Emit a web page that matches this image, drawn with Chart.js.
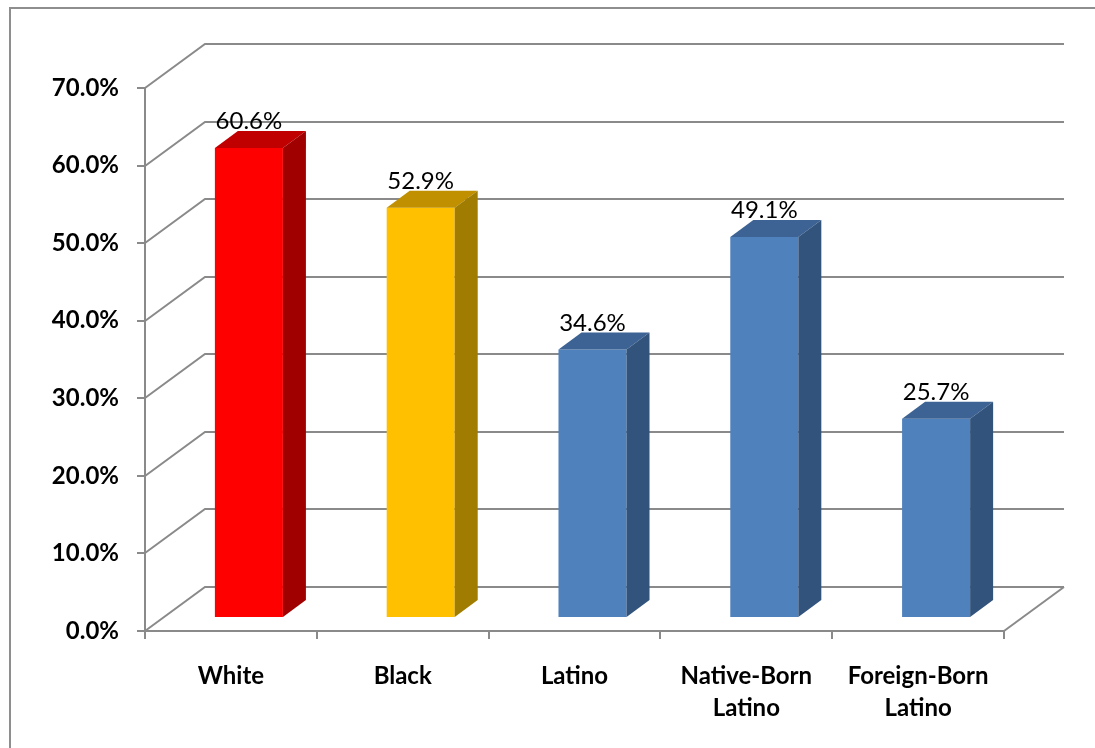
<!DOCTYPE html>
<html><head><meta charset="utf-8">
<script src="https://cdn.jsdelivr.net/npm/chart.js@4.4.1/dist/chart.umd.min.js"></script>
<style>
html,body{margin:0;padding:0;background:#fff;overflow:hidden;}
#wrap{position:relative;width:1095px;height:748px;overflow:hidden;}
#frame{position:absolute;left:9px;top:7px;width:1200px;height:800px;border-left:2px solid #8e8e8e;border-top:2px solid #8e8e8e;}
canvas{position:absolute;left:0;top:0;}
</style></head><body>
<div id="wrap"><div id="frame"></div><canvas id="c" width="1095" height="748"></canvas></div>
<script>
const categories = ['White', 'Black', 'Latino', ['Native-Born', 'Latino'], ['Foreign-Born', 'Latino']];
const values = [60.6, 52.9, 34.6, 49.1, 25.7];
const frontColors = ['#FF0000', '#FFC000', '#4F81BD', '#4F81BD', '#4F81BD'];
const topColors = ['#C00000', '#C09000', '#3C6393', '#3C6393', '#3C6393'];
const sideColors = ['#A00000', '#A07C00', '#32537C', '#32537C', '#32537C'];
const yTicks = [0, 10, 20, 30, 40, 50, 60, 70];

// 3D geometry (pixels)
const WALL_DX = 60, WALL_DY = -44;   // depth of the wall/floor
const BAR_DX = 18, BAR_DY = -13;     // bar front plane offset
const BD_X = 23, BD_Y = -17;         // bar depth
const GRID = '#8a8a8a';

const depthPlugin = {
  id: 'depth3d',
  beforeDatasetsDraw(chart) {
    const ctx = chart.ctx, xs = chart.scales.x, ys = chart.scales.y;
    const L = xs.left, R = xs.right;
    ctx.save();
    ctx.strokeStyle = GRID; ctx.lineWidth = 2; ctx.lineJoin = 'miter';
    yTicks.forEach(t => {
      const py = Math.round(ys.getPixelForValue(t));
      ctx.beginPath();
      ctx.moveTo(L, py);
      ctx.lineTo(L + WALL_DX, py + WALL_DY);
      ctx.lineTo(R + WALL_DX, py + WALL_DY);
      ctx.stroke();
    });
    const p0 = Math.round(ys.getPixelForValue(0));
    ctx.beginPath(); ctx.moveTo(R, p0); ctx.lineTo(R + WALL_DX, p0 + WALL_DY); ctx.stroke();
    ctx.restore();
    ctx.save();
    ctx.translate(BAR_DX, BAR_DY);
  },
  afterDatasetsDraw(chart) {
    const ctx = chart.ctx;
    const meta = chart.getDatasetMeta(0);
    meta.data.forEach((bar, i) => {
      const p = bar.getProps(['x', 'y', 'base', 'width'], true);
      const l = p.x - p.width / 2, r = p.x + p.width / 2;
      ctx.fillStyle = topColors[i];
      ctx.beginPath();
      ctx.moveTo(l, p.y); ctx.lineTo(l + BD_X, p.y + BD_Y); ctx.lineTo(r + BD_X, p.y + BD_Y); ctx.lineTo(r, p.y);
      ctx.closePath(); ctx.fill();
      ctx.fillStyle = sideColors[i];
      ctx.beginPath();
      ctx.moveTo(r, p.y); ctx.lineTo(r + BD_X, p.y + BD_Y); ctx.lineTo(r + BD_X, p.base + BD_Y); ctx.lineTo(r, p.base);
      ctx.closePath(); ctx.fill();
      ctx.fillStyle = '#000';
      ctx.font = '24px Lato';
      ctx.textAlign = 'center';
      ctx.textBaseline = 'alphabetic';
      ctx.fillText(values[i].toFixed(1) + '%', p.x, p.y + BD_Y - 2);
    });
    ctx.restore();
  }
};

new Chart(document.getElementById('c'), {
  type: 'bar',
  data: {
    labels: categories,
    datasets: [{
      data: values,
      backgroundColor: frontColors,
      borderWidth: 0,
      barPercentage: 0.396,
      categoryPercentage: 1
    }]
  },
  options: {
    responsive: false,
    animation: false,
    devicePixelRatio: 1,
    layout: { padding: { top: 88, right: 91, left: 0, bottom: 0 } },
    plugins: { legend: { display: false }, tooltip: { enabled: false } },
    scales: {
      x: {
        afterFit: s => { s.height = 117; },
        grid: { display: true, drawOnChartArea: false, drawTicks: true, tickLength: 8, color: GRID, lineWidth: 2, offset: true },
        border: { display: true, color: GRID, width: 2 },
        ticks: { color: '#000', font: { family: 'Lato', weight: 'bold', size: 24, lineHeight: 1.33 }, padding: 21, maxRotation: 0, autoSkip: false }
      },
      y: {
        min: 0, max: 70,
        afterFit: s => { s.width = 145; },
        afterBuildTicks: s => { s.ticks = yTicks.map(v => ({ value: v })); },
        grid: { display: true, drawOnChartArea: false, drawTicks: true, tickLength: 8, color: GRID, lineWidth: 2 },
        border: { display: true, color: GRID, width: 2 },
        ticks: { color: '#000', font: { family: 'Lato', weight: 'bold', size: 24 }, padding: 18,
                 callback: v => Number(v).toFixed(1) + '%' }
      }
    }
  },
  plugins: [depthPlugin]
});
</script>
</body></html>
